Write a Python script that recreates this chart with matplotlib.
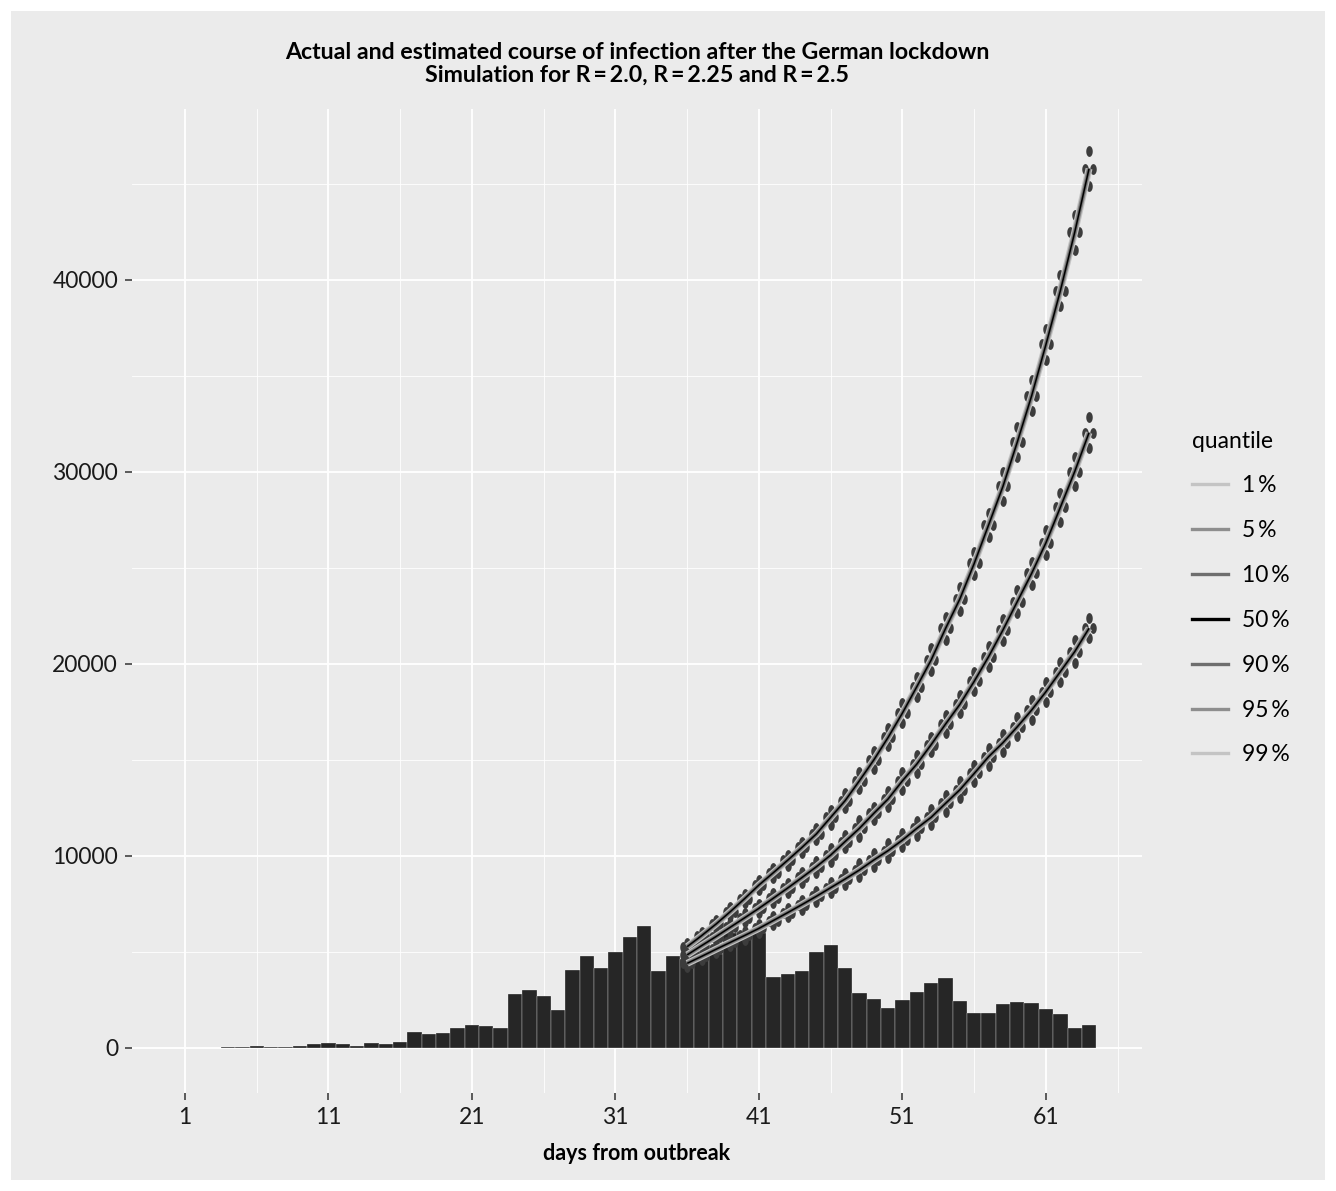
import numpy as np
import matplotlib
matplotlib.use("Agg")
import matplotlib.pyplot as plt
from matplotlib.lines import Line2D
from matplotlib.patches import Rectangle

# reported cases per day (days 1..64)
days = np.arange(1, 65)
cases = [0, 0, 0, 50, 50, 90, 40, 40, 90, 190, 245, 190, 90, 245, 190, 295,
         815, 710, 765, 1025, 1180, 1130, 1025, 2795, 3000, 2690, 1960, 4045,
         4775, 4150, 4985, 5765, 6335, 3990, 4775, 4620, 4750, 4900, 6000, 6050,
         5990, 3680, 3835, 3990, 4985, 5345, 4150, 2845, 2535, 2065, 2480, 2900,
         3370, 3630, 2430, 1805, 1805, 2275, 2380, 2325, 2015, 1755, 1025, 1180]

# simulated median course, days 36..64
sim_days = np.arange(36, 65)
median_r25 = [5280, 5850, 6450, 7100, 7780, 8490, 9130, 9780, 10450, 11150,
              12015, 12880, 13920, 15000, 16180, 17450, 18820, 20210, 21850,
              23390, 25240, 27240, 29250, 31560, 33970, 36650, 39440, 42480, 45800]
median_r225 = [4850, 5330, 5800, 6290, 6780, 7275, 7800, 8330, 8880, 9440,
               10050, 10750, 11440, 12220, 12970, 13920, 14790, 15800, 16870,
               17900, 19100, 20380, 21770, 23250, 24720, 26320, 28160, 30020, 32050]
median_r20 = [4410, 4770, 5140, 5500, 5860, 6230, 6640, 7050, 7470, 7900,
              8350, 8800, 9270, 9790, 10280, 10830, 11440, 12015, 12740, 13450,
              14300, 15170, 15900, 16730, 17600, 18560, 19600, 20640, 21860]

# distance of the outlying simulation points from the median
spread_r25 = [200, 210, 220, 240, 250, 260, 270, 280, 290, 300, 390, 390, 430,
              450, 470, 500, 520, 600, 610, 610, 610, 650, 750, 780, 800, 800,
              820, 900, 900]
spread_r225 = [190, 200, 210, 220, 230, 240, 250, 260, 270, 300, 380, 350, 430,
               350, 400, 470, 470, 400, 450, 470, 490, 555, 575, 608, 608, 650,
               750, 760, 800]
spread_r20 = [180, 190, 200, 210, 220, 230, 240, 250, 260, 280, 300, 330, 350,
              350, 390, 380, 400, 420, 440, 450, 460, 470, 470, 500, 520, 520,
              520, 600, 520]

quantiles = ["1\u2009%", "5\u2009%", "10\u2009%", "50\u2009%", "90\u2009%", "95\u2009%", "99\u2009%"]
q_colors = ["#C4C4C4", "#8E8E8E", "#6E6E6E", "#000000", "#6E6E6E", "#8E8E8E", "#C4C4C4"]

BG = "#EBEBEB"
plt.rcParams['font.family'] = ['Lato', 'DejaVu Sans']

fig = plt.figure(figsize=(13.36, 11.91), dpi=100)
fig.patch.set_facecolor("white")
fig.add_artist(Rectangle((11 / 1336, 11 / 1191), 1314 / 1336, 1169 / 1191,
                         transform=fig.transFigure, facecolor=BG, edgecolor="none", zorder=-5))
ax = fig.add_axes([132 / 1336, 98 / 1191, 1010 / 1336, 983.6 / 1191])
ax.set_facecolor(BG)

ax.bar(days, cases, width=1.0, color="#262626", edgecolor="white", linewidth=0.2, zorder=2)

# ellipse shaped marker
t = np.linspace(0, 2 * np.pi, 40)
ell = np.column_stack([0.6 * np.cos(t), np.sin(t)])

for med, spr in [(median_r25, spread_r25), (median_r225, spread_r225), (median_r20, spread_r20)]:
    med = np.array(med)
    spr = np.array(spr)
    pts_x = np.concatenate([sim_days, sim_days, sim_days - 0.3, sim_days + 0.3])
    pts_y = np.concatenate([med + spr, med - spr, med, med])
    ax.plot(pts_x, pts_y, ls="none", marker=ell, ms=7.8, color="#3C3C3C",
            mec="none", zorder=3)
    # quantile lines, outer ones drawn widest
    ax.plot(sim_days, med, color=q_colors[0], lw=5.0, zorder=4, solid_capstyle="butt")
    ax.plot(sim_days, med, color=q_colors[1], lw=3.4, zorder=4, solid_capstyle="butt")
    ax.plot(sim_days, med, color=q_colors[2], lw=2.2, zorder=4, solid_capstyle="butt")
    ax.plot(sim_days, med, color=q_colors[3], lw=1.1, zorder=4, solid_capstyle="butt")

ax.set_xlim(-2.69, 67.69)
ax.set_ylim(-2344, 48885)
ax.set_xticks([1, 11, 21, 31, 41, 51, 61])
ax.set_xticks([6, 16, 26, 36, 46, 56, 66], minor=True)
ax.set_yticks([0, 10000, 20000, 30000, 40000])
ax.set_yticks([5000, 15000, 25000, 35000, 45000], minor=True)
ax.grid(which="major", color="white", lw=1.3, zorder=0)
ax.grid(which="minor", color="white", lw=0.6, zorder=0)
ax.set_axisbelow(True)
for s in ax.spines.values():
    s.set_visible(False)
ax.tick_params(which="major", length=5, width=1.1, color="#333333", labelsize=16.5,
               labelcolor="#1A1A1A", pad=5)
ax.tick_params(which="minor", length=0)

ax.set_xlabel("days from outbreak", fontsize=15.5, fontweight="bold", labelpad=11)
ax.set_title("Actual and estimated course of infection after the German lockdown\n"
             "Simulation for R\u2009=\u20092.0, R\u2009=\u20092.25 and R\u2009=\u20092.5",
             fontsize=16.7, fontweight="bold", pad=20, linespacing=1.07)

handles = [Line2D([], [], color=c, lw=2.4) for c in q_colors]
leg = ax.legend(handles, quantiles, title="quantile", loc="upper left",
                bbox_to_anchor=(1171 / 1336, 1 - 410 / 1191), bbox_transform=fig.transFigure,
                frameon=False, fontsize=16.5, title_fontsize=16.5, handlelength=1.57,
                handletextpad=0.61, labelspacing=1.04, alignment="left")

fig.savefig("out.png", dpi=100, facecolor=fig.get_facecolor())
